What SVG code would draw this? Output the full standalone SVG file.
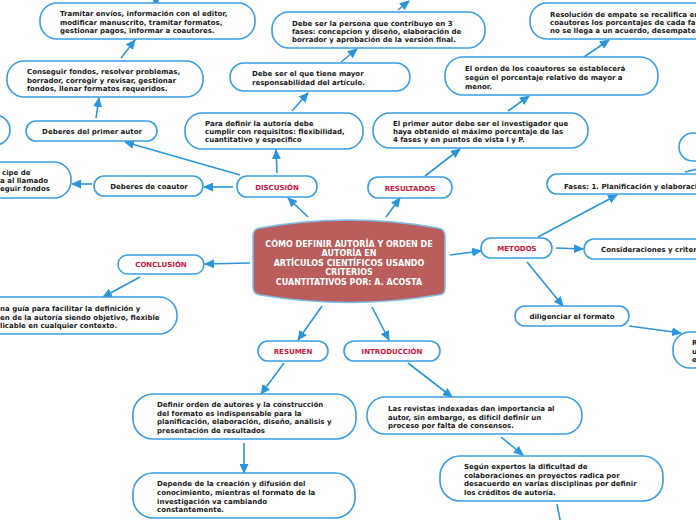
<svg xmlns="http://www.w3.org/2000/svg" width="696" height="520" viewBox="0 0 696 520">
<defs>
<marker id="a" markerUnits="userSpaceOnUse" markerWidth="10" markerHeight="9" refX="9" refY="4.5" orient="auto"><path d="M0,0 L10,4.5 L0,9 z" fill="#2b95dc"/></marker>
<style>
.b{fill:#fff;stroke:#3b9ee2;stroke-width:1.6}
.t{font-family:"DejaVu Sans",Verdana,sans-serif;font-weight:bold;font-size:7px;fill:#1a1a1a}
.m{text-anchor:middle}
.r{fill:#d0143c}
.c line{stroke:#2b95dc;stroke-width:1.6;marker-end:url(#a)}
.w{font-family:"DejaVu Sans",Verdana,sans-serif;font-weight:bold;font-size:8px;fill:#fff;text-anchor:middle}
</style>
</defs>
<rect width="696" height="520" fill="#fff"/>
<g class="c">
<line x1="121" y1="58" x2="135" y2="40"/>
<line x1="96" y1="118" x2="99" y2="98"/>
<line x1="153" y1="3" x2="160" y2="-5"/>
<line x1="341" y1="62" x2="357" y2="49"/>
<line x1="398" y1="10" x2="409" y2="1"/>
<line x1="584" y1="57" x2="609" y2="40"/>
<line x1="508" y1="111" x2="529" y2="96"/>
<line x1="292" y1="111" x2="308" y2="93"/>
<line x1="277" y1="173" x2="276" y2="150"/>
<line x1="240" y1="175" x2="125" y2="142"/>
<line x1="233" y1="187" x2="204" y2="187"/>
<line x1="92" y1="184" x2="72" y2="184"/>
<line x1="308" y1="217" x2="288" y2="198"/>
<line x1="386" y1="217" x2="400" y2="198"/>
<line x1="425" y1="176" x2="460" y2="149"/>
<line x1="450" y1="255" x2="481" y2="251"/>
<line x1="538" y1="237" x2="617" y2="195"/>
<line x1="685" y1="172" x2="710" y2="166"/>
<line x1="556" y1="248" x2="583" y2="249"/>
<line x1="527" y1="262" x2="563" y2="306"/>
<line x1="629" y1="326" x2="681" y2="333"/>
<line x1="250" y1="263" x2="205" y2="264"/>
<line x1="140" y1="277" x2="103" y2="297"/>
<line x1="322" y1="306" x2="298" y2="340"/>
<line x1="372" y1="307" x2="389" y2="340"/>
<line x1="284" y1="363" x2="261" y2="394"/>
<line x1="244" y1="443" x2="244" y2="473"/>
<line x1="408" y1="363" x2="452" y2="397"/>
<line x1="501" y1="437" x2="523" y2="455"/>
<line x1="557" y1="504" x2="562" y2="530"/>
</g>
<g id="tramitar"><rect class="b" x="40" y="3" width="215" height="36" rx="17"/><text class="t" x="60" y="16">Tramitar envíos, información con el editor,</text><text class="t" x="60" y="24.5">modificar manuscrito, tramitar formatos,</text><text class="t" x="60" y="33">gestionar pagos, informar a coautores.</text></g>
<g id="conseguir"><rect class="b" x="7" y="61" width="196" height="36" rx="17"/><text class="t" x="27" y="74">Conseguir fondos, resolver problemas,</text><text class="t" x="27" y="82.5">borrador, corregir y revisar, gestionar</text><text class="t" x="27" y="91">fondos, llenar formatos requeridos.</text></g>
<g id="primerautor"><rect class="b" x="26" y="121" width="131" height="20" rx="10"/><text class="t m" x="92" y="134">Deberes del primer autor</text></g>
<g id="izq1"><rect class="b" x="-60" y="115" width="70" height="30" rx="15"/></g>
<g id="mayor"><rect class="b" x="230" y="63" width="180" height="28" rx="14"/><text class="t" x="252" y="76">Debe ser el que tiene mayor</text><text class="t" x="252" y="85">responsabilidad del artículo.</text></g>
<g id="persona"><rect class="b" x="272" y="12" width="213" height="36" rx="17"/><text class="t" x="292" y="26">Debe ser la persona que contribuyo en 3</text><text class="t" x="292" y="34">fases: concepcion y diseño, elaboración de</text><text class="t" x="292" y="42">borrador y aprobación de la versión final.</text></g>
<g id="resolucion"><rect class="b" x="530" y="3" width="200" height="36" rx="17"/><text class="t" x="550" y="17">Resolución de empate se recalifica en</text><text class="t" x="550" y="25">coautores los porcentajes de cada fas</text><text class="t" x="550" y="33">no se llega a un acuerdo, desempate</text></g>
<g id="orden"><rect class="b" x="445" y="57" width="213" height="38" rx="18"/><text class="t" x="465" y="71">El orden de los coautores se establecerá</text><text class="t" x="465" y="80">según el porcentaje relativo de mayor a</text><text class="t" x="465" y="88.5">menor.</text></g>
<g id="primer"><rect class="b" x="373" y="113" width="215" height="35" rx="17"/><text class="t" x="393" y="126">El primer autor debe ser el investigador que</text><text class="t" x="393" y="134">haya obtenido el máximo porcentaje de las</text><text class="t" x="393" y="142">4 fases y en puntos de vista I y P.</text></g>
<g id="paradefinir"><rect class="b" x="185" y="113" width="178" height="36" rx="17"/><text class="t" x="205" y="126">Para definir la autoría debe</text><text class="t" x="205" y="134">cumplir con requisitos: flexibilidad,</text><text class="t" x="205" y="142">cuantitativo y especifico</text></g>
<g id="discusion"><rect class="b" x="237" y="176" width="80" height="21" rx="10"/><text class="t m r" x="277" y="190">DISCUSIÓN</text></g>
<g id="coautor"><rect class="b" x="94" y="176" width="109" height="20" rx="10"/><text class="t m" x="149" y="188.5">Deberes de coautor</text></g>
<g id="izq2"><rect class="b" x="-60" y="162" width="131" height="36" rx="17"/><text class="t" x="2" y="175">cipe de</text><text class="t" x="0" y="183">a al llamado</text><text class="t" x="0" y="191">eguir fondos</text></g>
<g id="central"><path d="M260,228 Q349,212 438,228 Q445,229 445,236 L445,288 Q445,295 438,295 Q349,310 260,295 Q253,294 253,287 L253,236 Q253,229 260,228 Z" fill="#b95e5c" stroke="#7bbfea" stroke-width="1.5"/><text class="w" x="349" y="246.5">CÓMO DEFINIR AUTORÍA Y ORDEN DE</text><text class="w" x="349" y="256">AUTORÍA EN</text><text class="w" x="349" y="265.5">ARTÍCULOS CIENTÍFICOS USANDO</text><text class="w" x="349" y="275">CRITERIOS</text><text class="w" x="349" y="284.5"> CUANTITATIVOS POR: A. ACOSTA</text></g>
<g id="resultados"><rect class="b" x="368" y="177" width="84" height="21" rx="10"/><text class="t m r" x="410" y="191">RESULTADOS</text></g>
<g id="metodos"><rect class="b" x="481" y="238" width="71" height="20" rx="10"/><text class="t m r" x="517" y="251">METODOS</text></g>
<g id="fases"><rect class="b" x="547" y="174" width="200" height="20" rx="10"/><text class="t" x="564" y="188.5">Fases: 1. Planificación y elaboración</text></g>
<g id="der1"><rect class="b" x="679" y="133" width="80" height="28" rx="14"/></g>
<g id="consideraciones"><rect class="b" x="584" y="239" width="150" height="20" rx="10"/><text class="t" x="601" y="252">Consideraciones y criterios</text></g>
<g id="diligenciar"><rect class="b" x="515" y="306" width="114" height="20" rx="10"/><text class="t m" x="572" y="318.5">diligenciar el formato</text></g>
<g id="der2"><rect class="b" x="673" y="332" width="80" height="36" rx="17"/><text class="t" x="692" y="345">R</text><text class="t" x="692" y="354">u</text><text class="t" x="692" y="362">e</text></g>
<g id="conclusion"><rect class="b" x="118" y="255" width="86" height="19" rx="9.5"/><text class="t m r" x="161" y="267">CONCLUSIÓN</text></g>
<g id="izq3"><rect class="b" x="-60" y="297" width="237" height="37" rx="18"/><text class="t" x="0" y="311">na guía para facilitar la definición y</text><text class="t" x="0" y="319.5">en de la autoría siendo objetivo, flexible</text><text class="t" x="0" y="328">licable en cualquier contexto.</text></g>
<g id="resumen"><rect class="b" x="258" y="341" width="70" height="20" rx="10"/><text class="t m r" x="293" y="354">RESUMEN</text></g>
<g id="introduccion"><rect class="b" x="344" y="341" width="96" height="20" rx="10"/><text class="t m r" x="392" y="354">INTRODUCCIÓN</text></g>
<g id="definir"><rect class="b" x="133" y="394" width="223" height="45" rx="20"/><text class="t" x="157" y="407">Definir orden de autores y la construcción</text><text class="t" x="157" y="415.5">del formato es indispensable para la</text><text class="t" x="157" y="424">planificación, elaboración, diseño, análisis y</text><text class="t" x="157" y="432.5">presentación de resultados</text></g>
<g id="depende"><rect class="b" x="133" y="473" width="222" height="45" rx="20"/><text class="t" x="157" y="486">Depende de la creación y difusión del</text><text class="t" x="157" y="495">conocimiento, mientras el formato de la</text><text class="t" x="157" y="503.5">investigación va cambiando</text><text class="t" x="157" y="512">constantemente.</text></g>
<g id="revistas"><rect class="b" x="367" y="397" width="215" height="37" rx="18"/><text class="t" x="388" y="411">Las revistas indexadas dan importancia al</text><text class="t" x="388" y="419.5">autor, sin embargo, es difícil definir un</text><text class="t" x="388" y="428">proceso por falta de consensos.</text></g>
<g id="segun"><rect class="b" x="440" y="456" width="223" height="45" rx="20"/><text class="t" x="464" y="469">Según expertos la dificultad de</text><text class="t" x="464" y="477.5">colaboraciones en proyectos radica por</text><text class="t" x="464" y="486">desacuerdo en varias disciplinas por definir</text><text class="t" x="464" y="494.5">los créditos de autoría.</text></g>
</svg>
